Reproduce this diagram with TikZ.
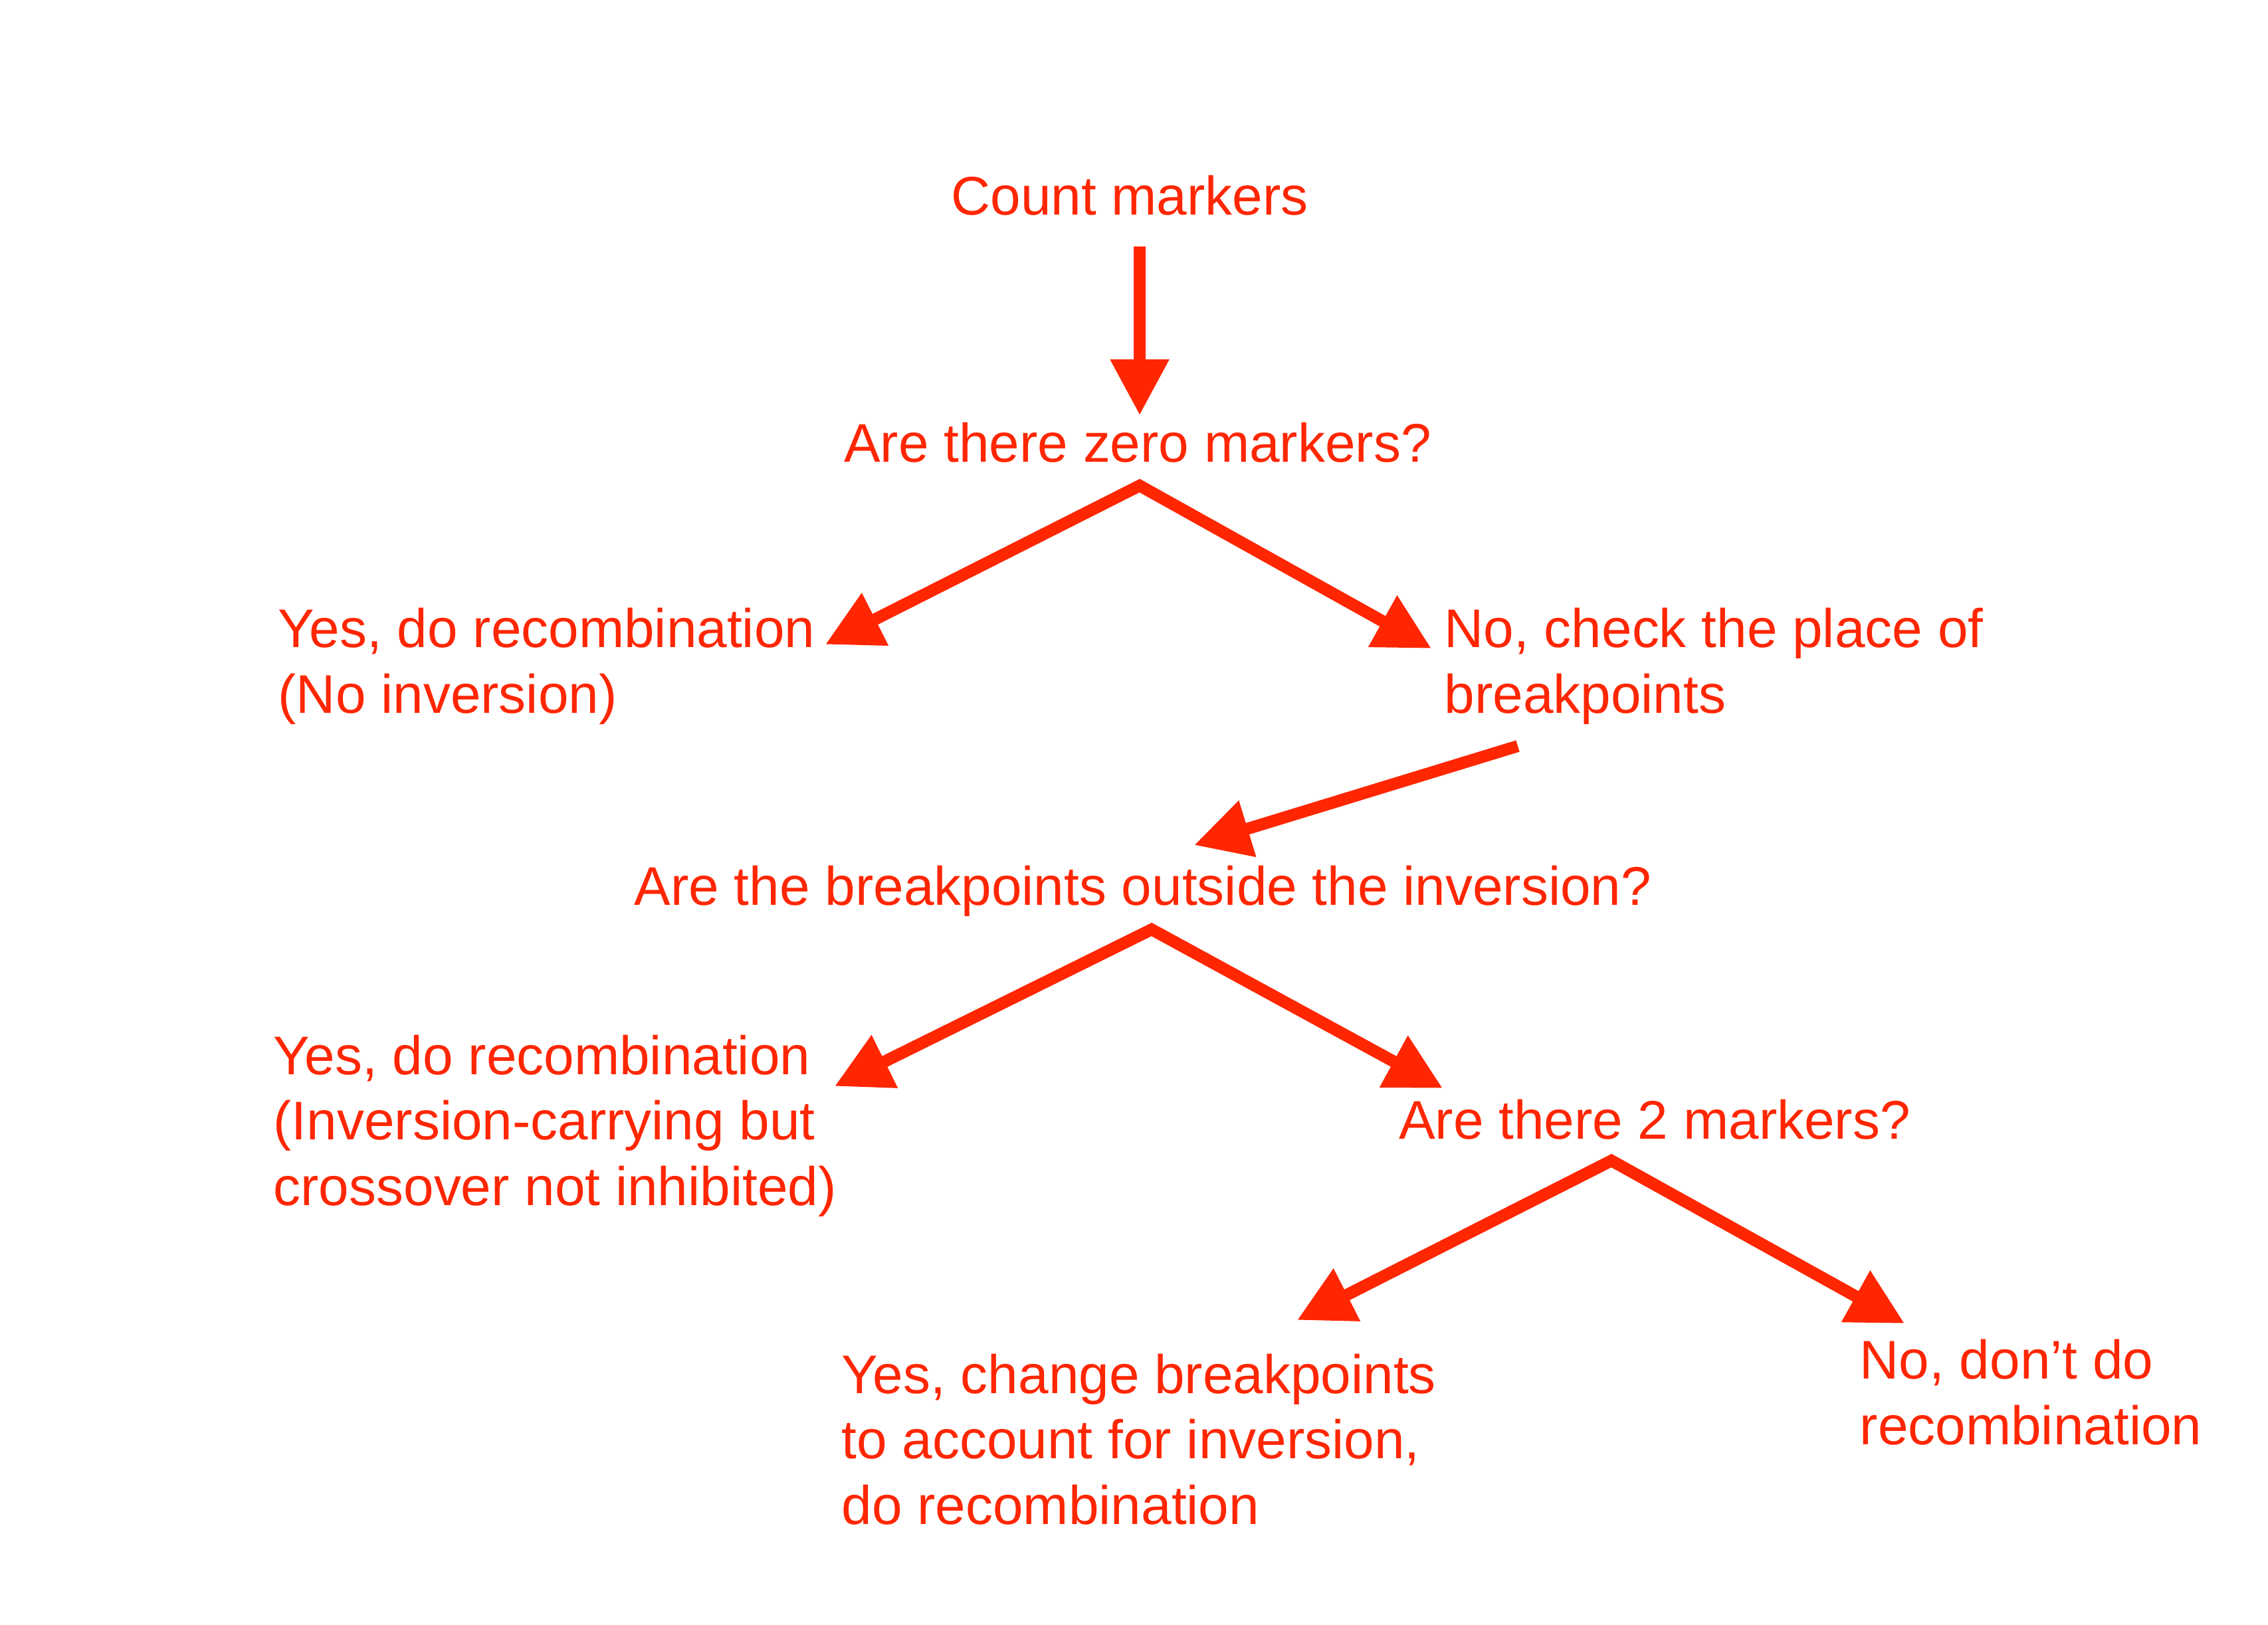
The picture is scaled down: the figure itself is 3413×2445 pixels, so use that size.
\documentclass[tikz,border=0pt]{standalone}
\usepackage{fontspec}
\setmainfont{Liberation Sans}
\usetikzlibrary{arrows.meta}
\definecolor{flow}{RGB}{255,38,0}
\begin{document}
\begin{tikzpicture}[x=0.01cm,y=-0.01cm,
  lbl/.style={text=flow, inner sep=0pt, font=\fontsize{23.3}{27.9}\selectfont, align=left},
  conn/.style={draw=flow, line width=0.18cm, -{Triangle[length=0.84cm,width=0.84cm]}, line join=miter},
  fork/.style={draw=flow, line width=0.18cm, {Triangle[length=0.84cm,width=0.84cm]}-{Triangle[length=0.84cm,width=0.84cm]}, line join=miter, miter limit=10}]
\useasboundingbox (0,0) rectangle (3413,2445);

% text nodes (base anchor of a multi-line node = baseline of its last line)
\node[lbl, anchor=base] (count) at (1700,323) {Count markers};
\node[lbl, anchor=base] (q1) at (1712,695) {Are there zero markers?};
\node[lbl, anchor=base west] (yes1) at (418,1073) {Yes, do recombination\\(No inversion)};
\node[lbl, anchor=base west] (no1) at (2173,1073) {No, check the place of\\breakpoints};
\node[lbl, anchor=base] (q2) at (1720,1362) {Are the breakpoints outside the inversion?};
\node[lbl, anchor=base west] (yes2) at (411,1814) {Yes, do recombination\\(Inversion-carrying but\\crossover not inhibited)};
\node[lbl, anchor=base] (q3) at (2490,1714) {Are there 2 markers?};
\node[lbl, anchor=base west] (yes3) at (1266,2294) {Yes, change breakpoints\\to account for inversion,\\do recombination};
\node[lbl, anchor=base west] (no3) at (2798,2174) {No, don’t do\\recombination};

% connector end points
\coordinate (c0) at (1715,371);
\coordinate (c1) at (1715,625);
\coordinate (f1) at (1715,731);
\coordinate (y1) at (1242,970);
\coordinate (n1) at (2154,976);
\coordinate (b0) at (2284,1123);
\coordinate (b1) at (1797,1272);
\coordinate (f2) at (1733,1399);
\coordinate (y2) at (1256,1635);
\coordinate (n2) at (2171,1638);
\coordinate (f3) at (2425,1747);
\coordinate (y3) at (1952,1987);
\coordinate (n3) at (2866,1992);

% connectors
\draw[conn] (c0) -- (c1);
\draw[fork] (y1) -- (f1) -- (n1);
\draw[conn] (b0) -- (b1);
\draw[fork] (y2) -- (f2) -- (n2);
\draw[fork] (y3) -- (f3) -- (n3);
\end{tikzpicture}
\end{document}
